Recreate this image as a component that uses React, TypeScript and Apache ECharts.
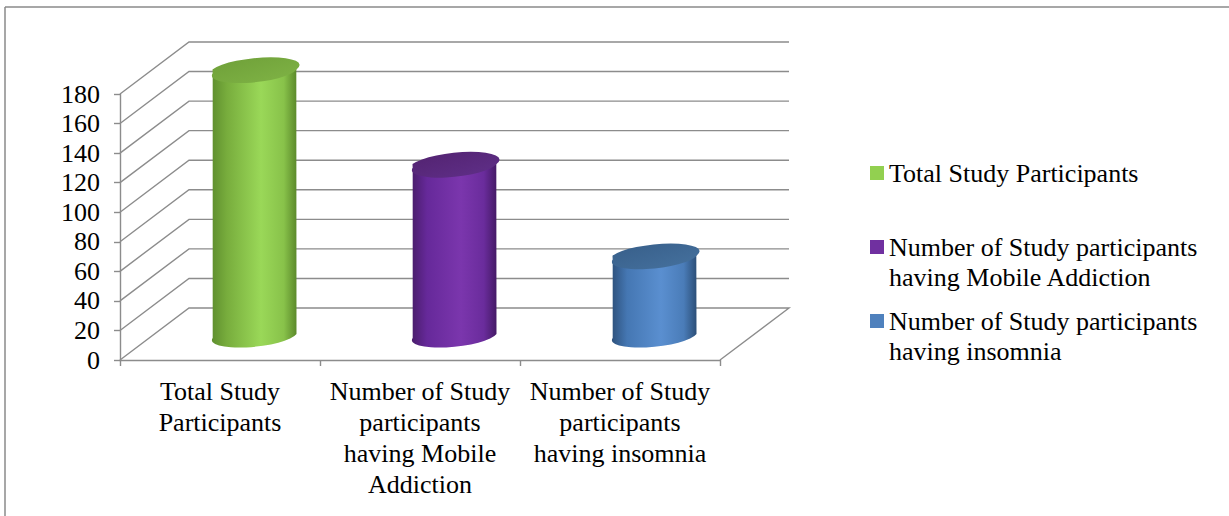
import React, { useEffect, useRef } from 'react';
import * as echarts from 'echarts';

// ---- data ----
const categories = [
  'Total Study Participants',
  'Number of Study participants having Mobile Addiction',
  'Number of Study participants having insomnia',
];
const categoryLabels = [
  'Total Study\nParticipants',
  'Number of Study\nparticipants\nhaving Mobile\nAddiction',
  'Number of Study\nparticipants\nhaving insomnia',
];
const legendLabels = [
  'Total Study Participants',
  ' \nNumber of Study participants\nhaving Mobile Addiction',
  ' \nNumber of Study participants\nhaving insomnia',
];
const values = [179, 115, 53];
const yTicks = [0, 20, 40, 60, 80, 100, 120, 140, 160, 180];

// ---- style ----
const FONT = '"Liberation Serif", "Times New Roman", serif';
const DX = 69;
const DY = 52;
const GRID_COLOR = '#8c8c8c';
const legendColors = ['#92d050', '#7030a0', '#4f81bd'];
const bodyStops = [
  ['#5f8f2e', '#78ad3d', '#9ad858', '#88c24a', '#5c8a2b'],
  ['#4a1d6c', '#66299a', '#7b36ad', '#6a2c9c', '#451a66'],
  ['#2e527d', '#4577b3', '#5a8fd0', '#4a7cb8', '#2c4f78'],
];
const topStops = [
  ['#6e9f38', '#80b446'],
  ['#52226f', '#60308a'],
  ['#375e89', '#46729f'],
];

const TILT = 5.5;

function cylinderRenderer(idx: number) {
  return (params: any, api: any) => {
    const cat = api.value(0);
    const v = api.value(1);
    const p0 = api.coord([cat, 0]);
    const p1 = api.coord([cat, v]);
    const bw = api.size([1, 0])[0];
    const cx = p0[0] + DX / 2;
    const yb = p0[1] - DY / 2;
    const yt = p1[1] - DY / 2;
    const rx = bw * 0.21;
    const ry = 10.5;
    const a = (TILT * Math.PI) / 180;
    const ex = rx * Math.cos(a);
    const ey = rx * Math.sin(a);
    const body = `M${cx - ex},${yt + ey} L${cx - ex},${yb + ey} A${rx},${ry} ${-TILT} 0 0 ${cx + ex},${yb - ey} L${cx + ex},${yt - ey} Z`;
    const top = `M${cx - ex},${yt + ey} A${rx},${ry} ${-TILT} 0 0 ${cx + ex},${yt - ey} A${rx},${ry} ${-TILT} 0 0 ${cx - ex},${yt + ey} Z`;
    const bs = bodyStops[idx];
    const ts = topStops[idx];
    return {
      type: 'group',
      children: [
        {
          type: 'path',
          shape: { pathData: body },
          style: {
            fill: new echarts.graphic.LinearGradient(0, 0, 1, 0, [
              { offset: 0, color: bs[0] },
              { offset: 0.18, color: bs[1] },
              { offset: 0.58, color: bs[2] },
              { offset: 0.85, color: bs[3] },
              { offset: 1, color: bs[4] },
            ]),
          },
        },
        {
          type: 'path',
          shape: { pathData: top },
          style: {
            fill: new echarts.graphic.LinearGradient(0, 0, 1, 1, [
              { offset: 0, color: ts[0] },
              { offset: 1, color: ts[1] },
            ]),
          },
        },
      ],
    };
  };
}

function frameRenderer(params: any, api: any) {
  const cs = params.coordSys;
  const x0 = cs.x;
  const x1 = cs.x + cs.width;
  const v = api.value(1);
  const y = api.coord([0, v])[1];
  const pts =
    v === 0
      ? [[x0, y], [x0 + DX, y - DY], [x1 + DX, y - DY], [x1, y]]
      : [[x0, y], [x0 + DX, y - DY], [x1 + DX, y - DY]];
  return {
    type: 'polyline',
    shape: { points: pts },
    style: { stroke: GRID_COLOR, lineWidth: 1.4, fill: 'none' },
  };
}

const legendTops = [158, 202, 276];

export default function App() {
  const ref = useRef<HTMLDivElement>(null);
  useEffect(() => {
    if (!ref.current) return;
    const chart = echarts.init(ref.current, null, { renderer: 'svg' });
    const option: any = {
      animation: false,
      backgroundColor: '#ffffff',
      grid: { left: 120, top: 94, width: 600, height: 266 },
      xAxis: {
        type: 'category',
        data: categories,
        boundaryGap: true,
        axisLine: { show: true, lineStyle: { color: GRID_COLOR, width: 1.4 } },
        axisTick: { show: true, length: 6, lineStyle: { color: GRID_COLOR, width: 1.4 } },
        axisLabel: {
          interval: 0,
          margin: 16,
          fontFamily: FONT,
          fontSize: 26,
          lineHeight: 31,
          color: '#000',
          formatter: (_: string, i: number) => categoryLabels[i],
        },
        splitLine: { show: false },
      },
      yAxis: {
        type: 'value',
        min: 0,
        max: 180,
        interval: 20,
        axisLine: { show: true, lineStyle: { color: GRID_COLOR, width: 1.4 } },
        axisTick: { show: true, length: 6, lineStyle: { color: GRID_COLOR, width: 1.4 } },
        axisLabel: { margin: 20, fontFamily: FONT, fontSize: 26, color: '#000' },
        splitLine: { show: false },
      },
      legend: [0, 1, 2].map((i) => ({
        data: [categories[i]],
        left: 870,
        top: legendTops[i],
        orient: 'vertical',
        icon: 'rect',
        itemWidth: 14,
        itemHeight: 14,
        padding: 0,
        selectedMode: false,
        formatter: () => legendLabels[i],
        textStyle: { fontFamily: FONT, fontSize: 26, lineHeight: 30, color: '#000' },
      })),
      graphic: [
        {
          type: 'line',
          shape: { x1: 5, y1: 7, x2: 1229, y2: 7 },
          style: { stroke: '#8a8a8a', lineWidth: 1.5 },
        },
        {
          type: 'line',
          shape: { x1: 5, y1: 7, x2: 5, y2: 516 },
          style: { stroke: '#8a8a8a', lineWidth: 1.5 },
        },
      ],
      series: [
        {
          type: 'custom',
          name: 'frame',
          z: 1,
          clip: false,
          silent: true,
          data: yTicks.map((v) => [0, v]),
          renderItem: frameRenderer,
        },
        ...categories.map((c, i) => ({
          type: 'custom',
          name: c,
          z: 3,
          clip: false,
          itemStyle: { color: legendColors[i] },
          data: [[i, values[i]]],
          renderItem: cylinderRenderer(i),
        })),
      ],
    };
    chart.setOption(option);
    return () => chart.dispose();
  }, []);
  return (
    <div
      ref={ref}
      style={{ position: 'absolute', left: 0, top: 0, width: 1229, height: 516 }}
    />
  );
}
